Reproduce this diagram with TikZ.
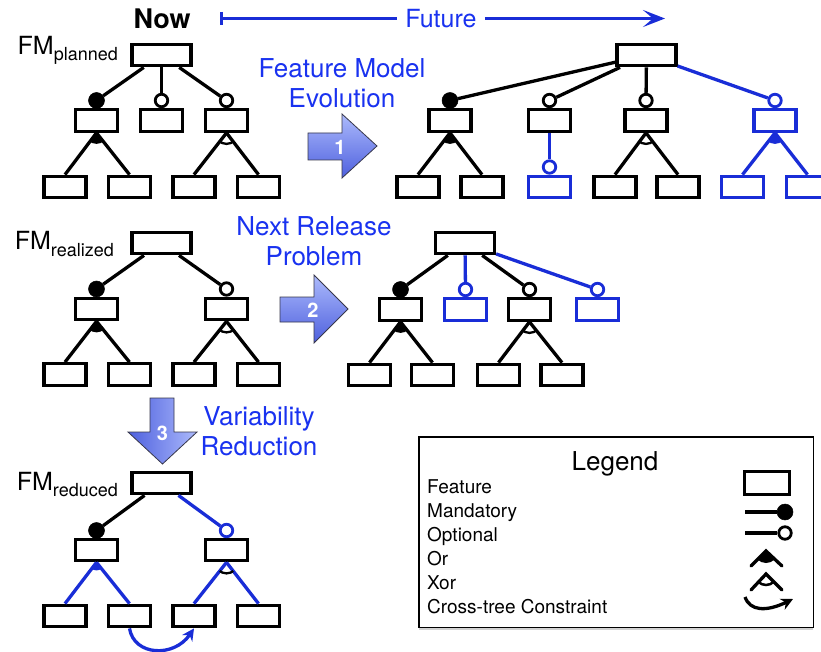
\documentclass[tikz,border=0pt]{standalone}
\usepackage{fontspec}
\setmainfont{TeX Gyre Heros}
\usetikzlibrary{calc,arrows.meta,shadows}
\definecolor{fmblue}{RGB}{25,45,215}
\definecolor{txtblue}{RGB}{25,50,240}
\definecolor{arrdark}{RGB}{78,96,222}
\definecolor{arrlight}{RGB}{172,186,252}
\definecolor{arredge}{RGB}{55,55,75}
\tikzset{
  feat/.style={draw, line width=3.3pt, minimum width=42pt, minimum height=21.5pt, inner sep=0pt},
  rootfeat/.style={feat, minimum width=59pt},
  mand/.style={circle, fill, draw, line width=0.5pt, minimum size=16pt, inner sep=0pt},
  opt/.style={circle, fill=white, draw, line width=2.8pt, minimum size=12.5pt, inner sep=0pt},
  edge/.style={line width=3.3pt},
  chg/.style={draw=fmblue},
  bigtxt/.style={font=\fontsize{26}{30}\selectfont, text=txtblue, align=center, inner sep=0pt},
  fmlab/.style={font=\fontsize{25}{25}\selectfont, anchor=base east, inner sep=0pt},
  legtxt/.style={font=\fontsize{19}{19}\selectfont, anchor=base west, inner sep=0pt},
  bigarrow/.style={draw=arredge, line width=0.8pt},
  numtxt/.style={font=\fontsize{20}{20}\selectfont\bfseries, text=white, inner sep=0pt}
}
\newcommand{\subl}[1]{\raisebox{-6pt}{\fontsize{18}{18}\selectfont #1}}
\begin{document}
\begin{tikzpicture}[x=1pt,y=-1pt]
\fill[white] (0,0) rectangle (821,652);
\useasboundingbox (0,0) rectangle (821,652);

% ---------- header ----------
\node[font=\fontsize{27}{27}\selectfont\bfseries, anchor=base, inner sep=0pt] (now) at (162,29) {Now};
\coordinate (fs) at (221,18.5);
\coordinate (fe) at (665,18.5);
\node[font=\fontsize{25}{25}\selectfont, text=txtblue, anchor=base, inner sep=8pt] (fut) at (441,28) {Future};
\draw[fmblue, line width=3pt] (fs) -- (fs -| fut.west);
\draw[fmblue, line width=3pt] ($(fs)+(0,-6.5)$) -- ($(fs)+(0,6.5)$);
\draw[fmblue, line width=3pt, -{Stealth[length=22pt,width=17pt,inset=10pt]}] (fs -| fut.east) -- (fe);

% ---------- FM planned ----------
\node[fmlab] (lab1) at (118,55) {FM\subl{planned}};
\node[rootfeat] (p0) at (161.5,55) {};
\node[feat] (p1) at (96.5,120.5) {};
\node[feat] (p2) at (161.5,120.5) {};
\node[feat] (p3) at (226.5,120.5) {};
\node[feat] (p11) at (65,187) {};
\node[feat] (p12) at (129.5,187) {};
\node[feat] (p31) at (194,187) {};
\node[feat] (p32) at (258.5,187) {};
\node[mand] (pm1) at (96.5,100.5) {};
\node[opt] (po2) at (161.5,100.5) {};
\node[opt] (po3) at (226.5,100.5) {};
\draw[edge] (p0) -- (pm1);
\draw[edge] (p0) -- (po2);
\draw[edge] (p0) -- (po3);
\draw[edge] (p1.south) -- (p11.north);
\draw[edge] (p1.south) -- (p12.north);
\draw[edge] (p3.south) -- (p31.north);
\draw[edge] (p3.south) -- (p32.north);
\begin{scope}\clip (p1.south) -- (p11.north) -- (p12.north) -- cycle; \fill (p1.south) circle (11pt);\end{scope}
\begin{scope}\clip (p3.south) -- (p31.north) -- (p32.north) -- cycle; \draw[line width=2.3pt] (p3.south) circle (11pt);\end{scope}

% arrow 1
\shade[bigarrow, top color=arrlight, bottom color=arrdark]
  (308,133) -- (342,133) -- (342,114) -- (377,146) -- (342,178) -- (342,160) -- (308,160) -- cycle;
\node[numtxt] (n1) at (340,147) {1};
\node[bigtxt, anchor=north] (t1) at (342,58) {Feature Model\\Evolution};

% ---------- future planned ----------
\node[rootfeat] (f0) at (646.5,55) {};
\node[feat] (fA) at (450,120.5) {};
\node[feat] (fB) at (549.5,120.5) {};
\node[feat] (fC) at (646,120.5) {};
\node[feat, chg] (fD) at (775,120.5) {};
\node[feat] (fA1) at (418,187) {};
\node[feat] (fA2) at (482,187) {};
\node[feat, chg] (fB1) at (549.5,187) {};
\node[feat] (fC1) at (615,187) {};
\node[feat] (fC2) at (678,187) {};
\node[feat, chg] (fD1) at (742.5,187) {};
\node[feat, chg] (fD2) at (807.5,187) {};
\node[mand] (fmA) at (450,100.5) {};
\node[opt] (foB) at (549.5,100.5) {};
\node[opt] (foC) at (646,100.5) {};
\node[opt, chg] (foD) at (775,100.5) {};
\node[opt, chg] (foB1) at (549.5,167) {};
\draw[edge] (f0) -- (fmA);
\draw[edge] (f0) -- (foB);
\draw[edge] (f0) -- (foC);
\draw[edge, fmblue] (f0) -- (foD);
\draw[edge, fmblue] (fB) -- (foB1);
\draw[edge] (fA.south) -- (fA1.north);
\draw[edge] (fA.south) -- (fA2.north);
\draw[edge] (fC.south) -- (fC1.north);
\draw[edge] (fC.south) -- (fC2.north);
\draw[edge, fmblue] (fD.south) -- (fD1.north);
\draw[edge, fmblue] (fD.south) -- (fD2.north);
\begin{scope}\clip (fA.south) -- (fA1.north) -- (fA2.north) -- cycle; \fill (fA.south) circle (11pt);\end{scope}
\begin{scope}\clip (fC.south) -- (fC1.north) -- (fC2.north) -- cycle; \draw[line width=2.3pt] (fC.south) circle (11pt);\end{scope}
\begin{scope}\clip (fD.south) -- (fD1.north) -- (fD2.north) -- cycle; \fill[fmblue] (fD.south) circle (11pt);\end{scope}

% ---------- FM realized ----------
\node[fmlab] (lab2) at (114,250) {FM\subl{realized}};
\node[rootfeat] (r0) at (161.5,243) {};
\node[feat] (r1) at (96.5,309) {};
\node[feat] (r3) at (226.5,309) {};
\node[feat] (r11) at (65,374.5) {};
\node[feat] (r12) at (129.5,374.5) {};
\node[feat] (r31) at (194,374.5) {};
\node[feat] (r32) at (258.5,374.5) {};
\node[mand] (rm1) at (96.5,289) {};
\node[opt] (ro3) at (226.5,289) {};
\draw[edge] (r0) -- (rm1);
\draw[edge] (r0) -- (ro3);
\draw[edge] (r1.south) -- (r11.north);
\draw[edge] (r1.south) -- (r12.north);
\draw[edge] (r3.south) -- (r31.north);
\draw[edge] (r3.south) -- (r32.north);
\begin{scope}\clip (r1.south) -- (r11.north) -- (r12.north) -- cycle; \fill (r1.south) circle (11pt);\end{scope}
\begin{scope}\clip (r3.south) -- (r31.north) -- (r32.north) -- cycle; \draw[line width=2.3pt] (r3.south) circle (11pt);\end{scope}

% arrow 2
\shade[bigarrow, top color=arrlight, bottom color=arrdark]
  (280,297) -- (314,297) -- (314,275) -- (348,309) -- (314,343) -- (314,322) -- (280,322) -- cycle;
\node[numtxt] (n2) at (313,310) {2};
\node[bigtxt, anchor=north] (t2) at (314,216) {Next Release\\Problem};

% ---------- future realized ----------
\node[rootfeat] (n0) at (465,243) {};
\node[feat] (q1) at (400.5,309.5) {};
\node[feat, chg] (q2) at (465.5,309.5) {};
\node[feat] (q3) at (529.5,309.5) {};
\node[feat, chg] (q4) at (597.5,309.5) {};
\node[feat] (q11) at (369.5,375) {};
\node[feat] (q12) at (432.5,375) {};
\node[feat] (q31) at (498.5,375) {};
\node[feat] (q32) at (562,375) {};
\node[mand] (qm1) at (400.5,289.5) {};
\node[opt, chg] (qo2) at (465.5,289.5) {};
\node[opt] (qo3) at (529.5,289.5) {};
\node[opt, chg] (qo4) at (597.5,289.5) {};
\draw[edge] (n0) -- (qm1);
\draw[edge, fmblue] (n0) -- (qo2);
\draw[edge] (n0) -- (qo3);
\draw[edge, fmblue] (n0) -- (qo4);
\draw[edge] (q1.south) -- (q11.north);
\draw[edge] (q1.south) -- (q12.north);
\draw[edge] (q3.south) -- (q31.north);
\draw[edge] (q3.south) -- (q32.north);
\begin{scope}\clip (q1.south) -- (q11.north) -- (q12.north) -- cycle; \fill (q1.south) circle (11pt);\end{scope}
\begin{scope}\clip (q3.south) -- (q31.north) -- (q32.north) -- cycle; \draw[line width=2.3pt] (q3.south) circle (11pt);\end{scope}

% arrow 3
\shade[bigarrow, left color=arrdark, right color=arrlight]
  (150,398) -- (174,398) -- (174,432) -- (197,432) -- (162.5,464) -- (128,432) -- (150,432) -- cycle;
\node[numtxt] (n3) at (162.5,433) {3};
\node[bigtxt, anchor=north] (t3) at (259,406) {Variability\\Reduction};

% ---------- FM reduced ----------
\node[fmlab] (lab3) at (118,490) {FM\subl{reduced}};
\node[rootfeat] (d0) at (161.5,483) {};
\node[feat] (d1) at (96.5,550) {};
\node[feat] (d2) at (226.5,550) {};
\node[feat] (d11) at (65,616) {};
\node[feat] (d12) at (129.5,616) {};
\node[feat] (d21) at (194,616) {};
\node[feat] (d22) at (258.5,616) {};
\node[mand] (dm1) at (96.5,530.5) {};
\node[opt, chg] (do2) at (226.5,530.5) {};
\draw[edge] (d0) -- (dm1);
\draw[edge, fmblue] (d0) -- (do2);
\draw[edge, fmblue] (d1.south) -- (d11.north);
\draw[edge, fmblue] (d1.south) -- (d12.north);
\draw[edge, fmblue] (d2.south) -- (d21.north);
\draw[edge, fmblue] (d2.south) -- (d22.north);
\begin{scope}\clip (d1.south) -- (d11.north) -- (d12.north) -- cycle; \fill[fmblue] (d1.south) circle (8pt);\end{scope}
\begin{scope}\clip (d2.south) -- (d21.north) -- (d22.north) -- cycle; \draw[line width=2.3pt] (d2.south) circle (11pt);\end{scope}
\draw[edge, fmblue, -{Stealth[length=12pt,width=12pt,inset=4pt]}] (d12.south) .. controls (134,656) and (174,658) .. (d21.south);

% ---------- legend ----------
\node[draw, line width=1.5pt, fill=white, drop shadow={shadow xshift=0pt, shadow yshift=-3pt, opacity=0.35},
      minimum width=394.5pt, minimum height=190.5pt, anchor=north west, inner sep=0pt] (leg) at (418,436) {};
\node[font=\fontsize{26}{26}\selectfont, anchor=base, inner sep=0pt] (legt) at (615,470) {Legend};
\node[legtxt] (l1) at (427,493) {Feature};
\node[legtxt] (l2) at (427,517) {Mandatory};
\node[legtxt] (l3) at (427,541) {Optional};
\node[legtxt] (l4) at (427,565) {Or};
\node[legtxt] (l5) at (427,589) {Xor};
\node[legtxt] (l6) at (427,613) {Cross-tree Constraint};
\node[feat, minimum width=45pt, minimum height=23pt] (lf) at (767,483) {};
\coordinate (lm0) at (745,512);
\node[mand] (lm) at (785,512) {};
\draw[edge] (lm0) -- (lm);
\coordinate (lo0) at (745,533);
\node[opt] (lo) at (785,533) {};
\draw[edge] (lo0) -- (lo);
\coordinate (lr) at (766,551);
\coordinate (lr1) at (751,566);
\coordinate (lr2) at (782,566);
\draw[edge, line cap=round] (lr1) -- (lr) -- (lr2);
\begin{scope}\clip (lr) -- (lr1) -- (lr2) -- cycle; \fill (lr) circle (12pt);\end{scope}
\coordinate (lx) at (766,574);
\coordinate (lx1) at (751,590);
\coordinate (lx2) at (782,590);
\draw[edge, line cap=round] (lx1) -- (lx) -- (lx2);
\begin{scope}\clip (lx) -- (lx1) -- (lx2) -- cycle; \draw[line width=2.5pt] (lx) circle (11pt);\end{scope}
\coordinate (lc1) at (745,597);
\coordinate (lc2) at (793,599);
\draw[edge, -{Stealth[length=12pt,width=12pt,inset=4pt]}] (lc1) .. controls (750,611) and (766,612) .. (lc2);
\end{tikzpicture}
\end{document}
